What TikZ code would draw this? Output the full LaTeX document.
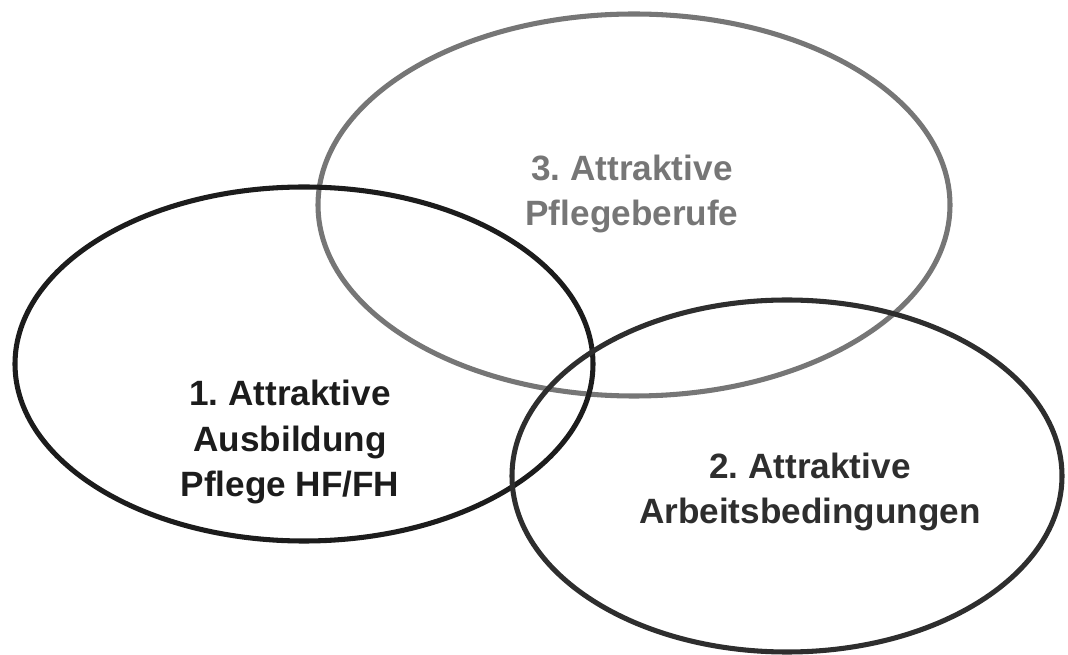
\documentclass[tikz,border=0pt]{standalone}
\usepackage{fontspec}
\setmainfont{Liberation Sans}
\frenchspacing
\definecolor{ringone}{HTML}{1C1C1C}
\definecolor{ringtwo}{HTML}{2E2E2E}
\definecolor{ringthree}{HTML}{767676}
\begin{document}
\begin{tikzpicture}[x=0.025cm,y=-0.025cm,
  ring/.style={line width=3.6pt},
  aim/.style={align=center,font=\bfseries\fontsize{25}{32.5}\selectfont}]
\useasboundingbox (0,0) rectangle (1068,655);

% three circles
\draw[ring,ringthree] (634,205) ellipse [x radius=316, y radius=191];
\draw[ring,ringone] (304,364) ellipse [x radius=289, y radius=177];
\draw[ring,ringtwo] (787,476) ellipse [x radius=275, y radius=176];

\node[aim,text=ringthree] (pflegeberufe) at (632,194) {3. Attraktive\\Pflegeberufe};
\node[aim,text=ringone] (ausbildung) at (290,442) {1. Attraktive\\Ausbildung\\Pflege HF/FH};
\node[aim,text=ringtwo] (arbeit) at (810,492) {2. Attraktive\\Arbeitsbedingungen};
\end{tikzpicture}
\end{document}
